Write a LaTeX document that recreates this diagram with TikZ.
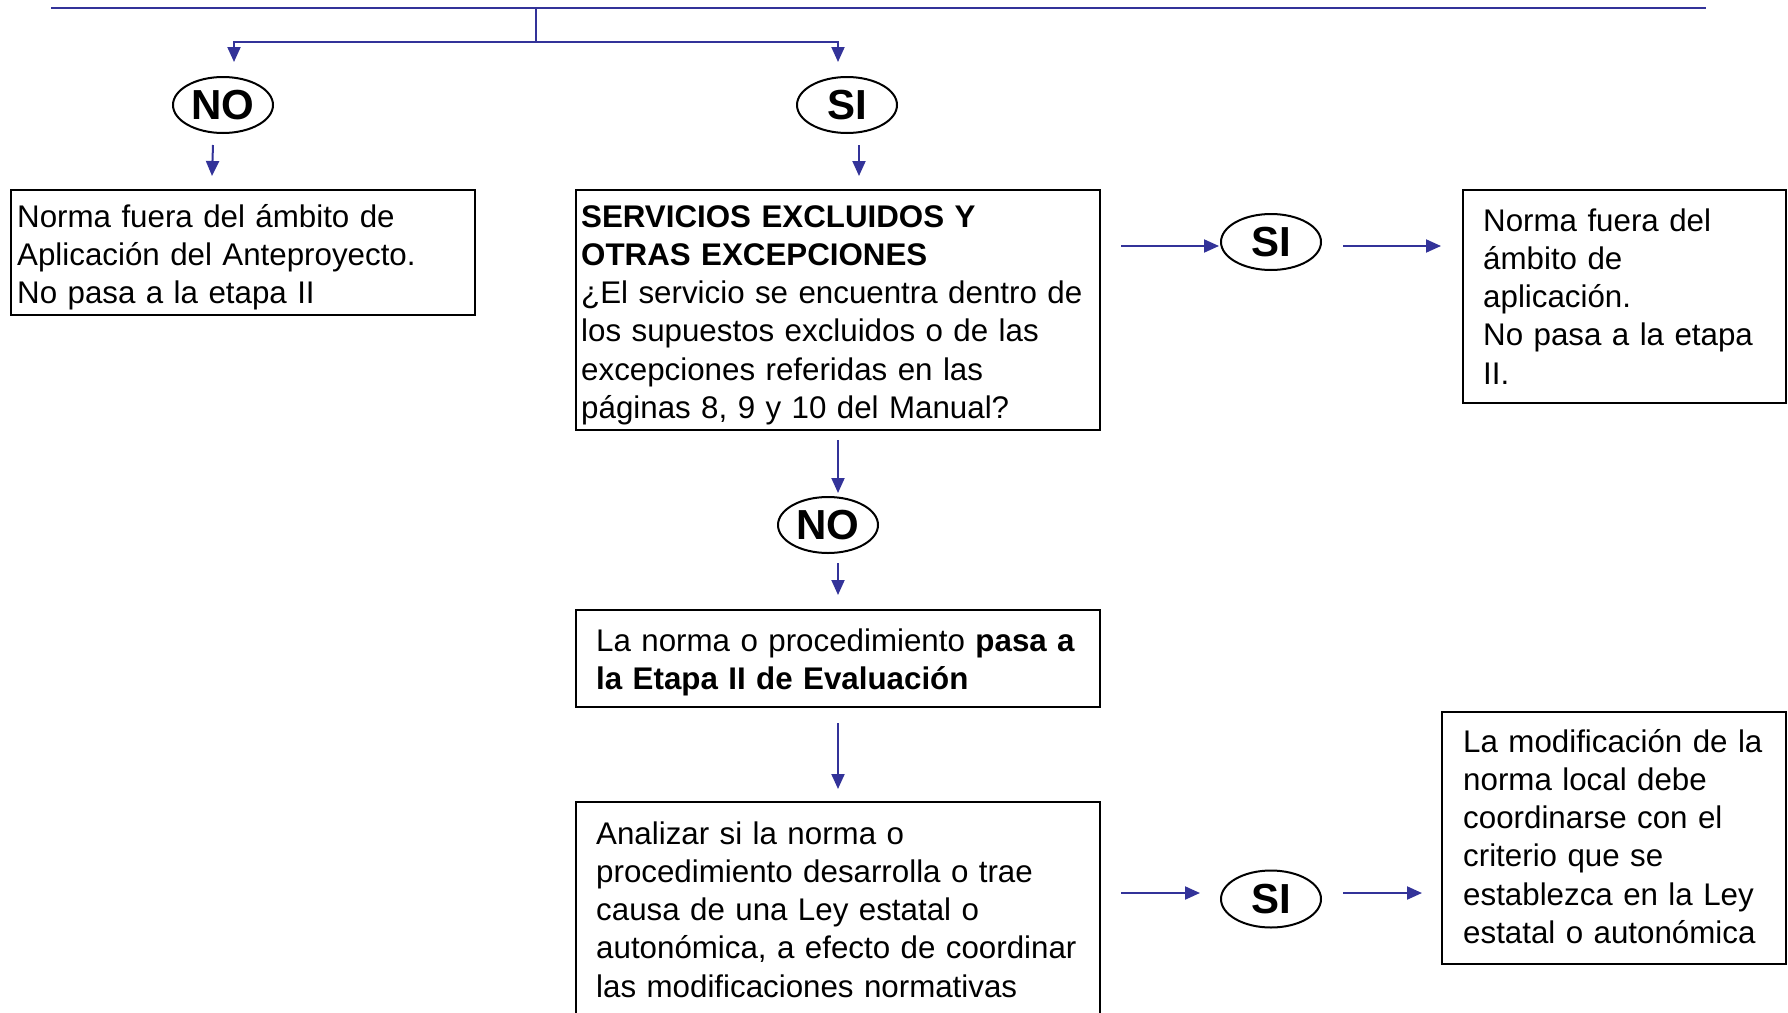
\documentclass[tikz,border=0pt]{standalone}
\usepackage{fontspec}
\setmainfont{Liberation Sans}
\usetikzlibrary{arrows.meta,shapes.geometric}
\definecolor{flowblue}{RGB}{51,51,153}
\begin{document}
\begin{tikzpicture}[x=1pt,y=-1pt,
  flow/.style={draw=flowblue,line width=2pt},
  arr/.style={flow,-{Triangle[length=15pt,width=13pt]}},
  boxnode/.style={draw=black,line width=2pt,rectangle,inner sep=0pt},
  txt/.style={anchor=base west,inner sep=0pt,align=left,text width=#1,
    font=\fontsize{31.3}{38.3}\selectfont},
  oval/.style={draw=black,line width=2pt,ellipse,inner sep=0pt,
    minimum width=100pt,minimum height=56pt,
    font=\fontsize{42}{42}\selectfont\bfseries}]
\clip (0,0) rectangle (1788,1012);
\fill[white] (0,0) rectangle (1788,1012);

% top bar
\coordinate (topL) at (51,8);
\coordinate (topR) at (1706,8);
\coordinate (topM) at (536,8);
\coordinate (br) at (536,42);
\draw[flow] (topL) -- (topR);
\draw[flow] (topM) -- (br);

% nodes
\node[oval] (no1) at (223,105) {NO};
\node[oval] (si1) at (847,105) {SI};
\node[boxnode,minimum width=464pt,minimum height=125pt] (nofuera) at (243,252.5) {};
\node[txt=460pt] (nofueraT) at (17,227) {Norma fuera del ámbito de\\Aplicación del Anteproyecto.\\No pasa a la etapa II};

\node[boxnode,minimum width=524pt,minimum height=240pt] (serv) at (838,310) {};
\node[txt=520pt] (servT) at (581,227) {\textbf{SERVICIOS EXCLUIDOS Y}\\\textbf{OTRAS EXCEPCIONES}\\¿El servicio se encuentra dentro de\\los supuestos excluidos o de las\\excepciones referidas en las\\páginas 8, 9 y 10 del Manual?};

\node[oval] (si2) at (1271,242) {SI};
\node[boxnode,minimum width=323pt,minimum height=213pt] (fuera2) at (1624.5,296.5) {};
\node[txt=300pt] (fuera2T) at (1483,231) {Norma fuera del\\ámbito de\\aplicación.\\No pasa a la etapa\\II.};

\node[oval] (no2) at (828,525) {NO};
\node[boxnode,minimum width=524pt,minimum height=97pt] (pasa) at (838,658.5) {};
\node[txt=500pt] (pasaT) at (596,651) {La norma o procedimiento \textbf{pasa a}\\\textbf{la Etapa II de Evaluación}};

\node[boxnode,minimum width=524pt,minimum height=238pt] (analiz) at (838,921) {};
\node[txt=500pt] (analizT) at (596,844) {Analizar si la norma o\\procedimiento desarrolla o trae\\causa de una Ley estatal o\\autonómica, a efecto de coordinar\\las modificaciones normativas};

\node[oval,minimum height=57pt] (si3) at (1271,899) {SI};
\node[boxnode,minimum width=344pt,minimum height=252pt] (modif) at (1614,838) {};
\node[txt=330pt] (modifT) at (1463,752) {La modificación de la\\norma local debe\\coordinarse con el\\criterio que se\\establezca en la Ley\\estatal o autonómica};

% connectors
\draw[arr] (br) -| ([shift={(11,-14)}]no1.north);
\draw[arr] (br) -| ([shift={(-9,-14)}]si1.north);
\draw[arr] ([shift={(-10,11)}]no1.south) -- ([shift={(202,-13)}]nofuera.north west);
\draw[arr] ([shift={(12,11)}]si1.south) -- ([shift={(21,-13)}]serv.north);
\draw[arr] ([shift={(20,-64)}]serv.east) -- ([shift={(-1,4)}]si2.west);
\draw[arr] ([shift={(21,4)}]si2.east) -- ([shift={(-21,-50.5)}]fuera2.west);
\draw[arr] ([shift={(0,9)}]serv.south) -- ([shift={(10,-3)}]no2.north);
\draw[arr] ([shift={(10,9)}]no2.south) -- ([shift={(0,-14)}]pasa.north);
\draw[arr] ([shift={(0,15)}]pasa.south) -- ([shift={(0,-12)}]analiz.north);
\draw[arr] ([shift={(20,-28)}]analiz.east) -- ([shift={(-20,-6)}]si3.west);
\draw[arr] ([shift={(21,-6)}]si3.east) -- ([shift={(-19,55)}]modif.west);
\end{tikzpicture}
\end{document}
